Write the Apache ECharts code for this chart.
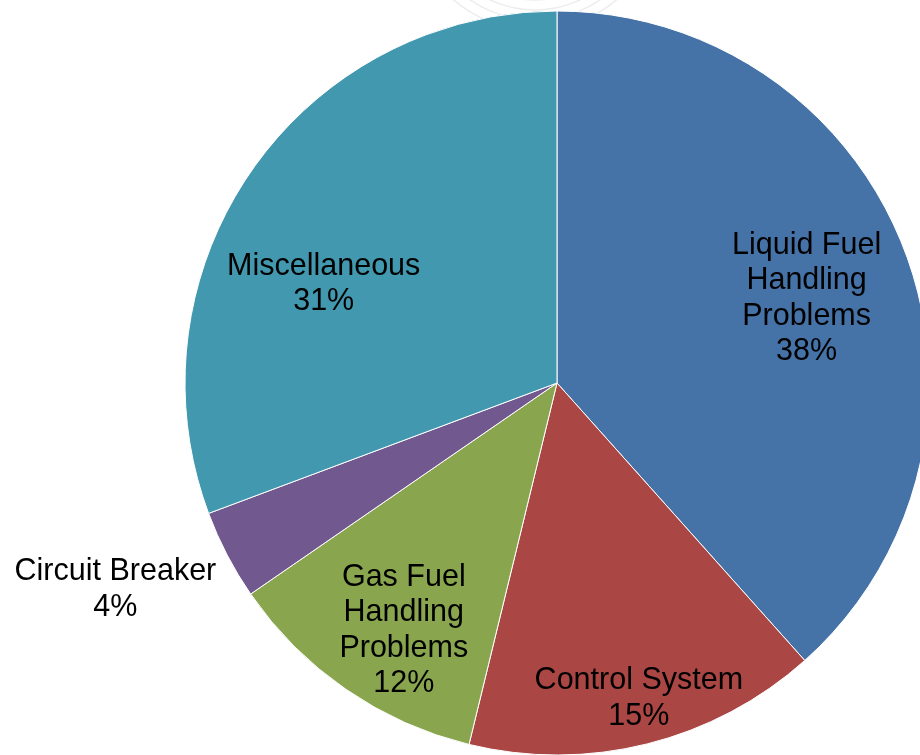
<!DOCTYPE html>
<html>
<head>
<meta charset="utf-8">
<script src="https://cdn.jsdelivr.net/npm/echarts@6/dist/echarts.min.js"></script>
<style>
html,body{margin:0;padding:0;background:#fff;}
#chart{width:920px;height:755px;}
</style>
</head>
<body>
<div id="chart"></div>
<script>
const categories = [
  "Liquid Fuel\nHandling\nProblems",
  "Control System",
  "Gas Fuel\nHandling\nProblems",
  "Circuit Breaker",
  "Miscellaneous"
];
const values = [38.4, 15.4, 11.6, 3.9, 30.7];
const colors = ["#4572A7", "#AA4643", "#89A54E", "#71588F", "#4198AF"];
// label nudges from the slice's inside anchor (dx, dy)
const labelNudge = [[73, -17], [36, 132], [-46, 92], [-274, 119], [-78, 9]];

const chart = echarts.init(document.getElementById('chart'), null, {renderer: 'canvas'});

const decoArcs = [95, 105, 115, 125].map(r => ({
  type: 'circle', z: -10, silent: true,
  shape: {cx: 535, cy: -95, r: r},
  style: {fill: 'none', stroke: '#ededed', lineWidth: 1.5}
}));

chart.setOption({
  backgroundColor: '#ffffff',
  animation: false,
  graphic: decoArcs,
  series: [{
    type: 'pie',
    center: [557, 383],
    radius: [0, 372],
    startAngle: 90,
    clockwise: true,
    avoidLabelOverlap: false,
    data: categories.map((c, i) => ({
      name: c, value: values[i],
      itemStyle: {color: colors[i]}
    })),
    itemStyle: {borderColor: '#ffffff', borderWidth: 1},
    label: {
      show: true,
      position: 'inside',
      formatter: p => p.name + '\n' + Math.round(p.percent) + '%',
      fontFamily: 'Liberation Sans, Arial, sans-serif',
      fontSize: 30.5,
      lineHeight: 35.5,
      color: '#000000',
      align: 'center'
    },
    labelLine: {show: false},
    labelLayout: p => ({dx: labelNudge[p.dataIndex][0], dy: labelNudge[p.dataIndex][1]}),
    emphasis: {disabled: true}
  }]
});
</script>
</body>
</html>
